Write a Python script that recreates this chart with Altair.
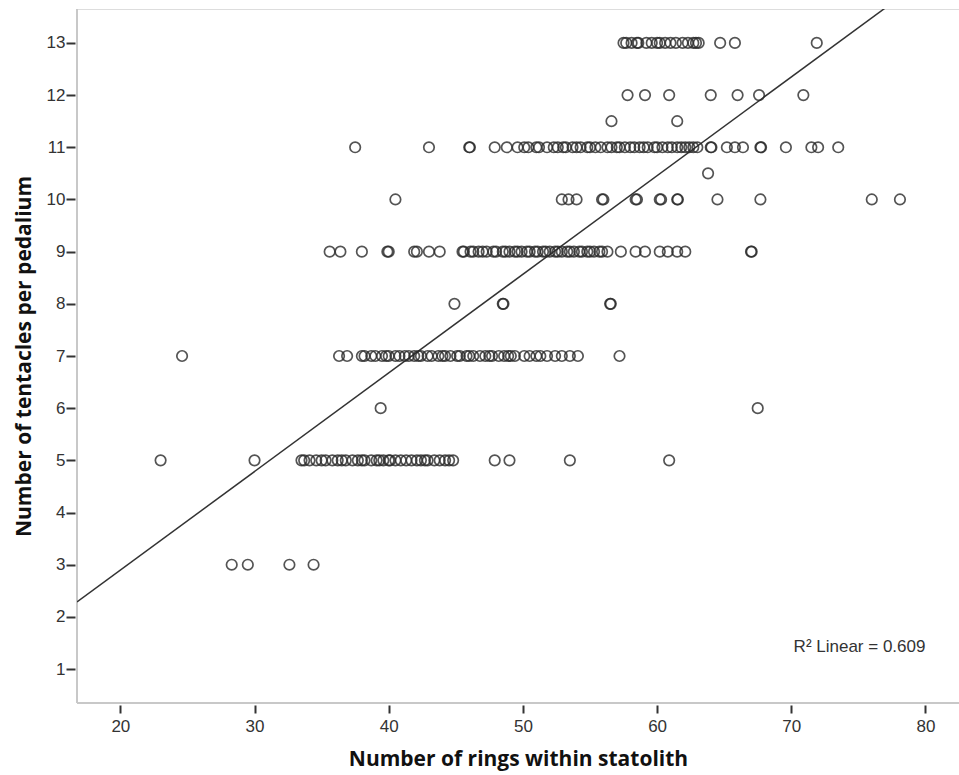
import altair as alt
import pandas as pd

# Number of rings (x) for each tentacle-count row (y)
rings_t3 = [28.3, 29.5, 32.6, 34.4]
rings_t5 = [23.0, 30.0, 33.5, 33.7, 34.1, 34.6, 35.0, 35.3, 35.8, 36.2, 36.5, 36.8, 37.3, 37.7,
            38.0, 38.2, 38.7, 39.1, 39.3, 39.6, 40.0, 40.1, 40.5, 40.9, 41.3, 41.7, 42.1, 42.4,
            42.7, 42.9, 43.4, 43.8, 44.2, 44.5, 44.8, 47.9, 49.0, 53.5, 60.9]
rings_t6 = [39.4, 67.5]
rings_t7 = [24.6, 36.3, 36.9, 38.0, 38.2, 38.7, 39.0, 39.5, 39.8, 40.0, 40.5, 40.8, 41.2, 41.5,
            41.9, 42.2, 42.4, 42.9, 43.2, 43.7, 44.0, 44.2, 44.6, 45.1, 45.3, 45.8, 46.0, 46.3,
            46.8, 47.2, 47.5, 47.7, 48.2, 48.6, 48.9, 49.1, 49.4, 50.1, 50.5, 51.0, 51.3, 51.8,
            52.4, 52.9, 53.5, 54.1, 57.2]
rings_t8 = [44.9, 48.5, 48.55, 56.5, 56.55]
rings_t9 = [35.6, 36.4, 38.0, 39.9, 40.0, 41.9, 42.1, 43.0, 43.8, 45.5, 45.6, 46.1, 46.3, 46.7,
            47.0, 47.3, 47.8, 48.0, 48.5, 48.7, 49.0, 49.4, 49.6, 49.9, 50.3, 50.5, 50.9, 51.1,
            51.5, 51.7, 52.0, 52.4, 52.6, 52.9, 53.3, 53.5, 53.8, 54.2, 54.4, 54.8, 55.0, 55.3,
            55.7, 55.9, 56.3, 57.3, 58.4, 59.1, 60.2, 60.8, 61.5, 62.1, 67.0, 67.05]
rings_t10 = [40.5, 52.9, 53.4, 54.0, 55.9, 56.0, 58.4, 58.5, 60.2, 60.3, 61.5, 61.55, 64.5,
             67.7, 76.0, 78.1]
rings_t10_5 = [63.8]
rings_t11 = [37.5, 43.0, 46.0, 46.05, 47.9, 48.8, 49.6, 50.1, 50.4, 51.0, 51.2, 51.8, 52.3,
             52.6, 53.0, 53.2, 53.7, 54.0, 54.3, 54.8, 55.0, 55.4, 55.8, 56.3, 56.6, 57.0, 57.2,
             57.6, 58.0, 58.3, 58.7, 59.0, 59.3, 59.8, 60.0, 60.4, 60.8, 61.1, 61.5, 61.8, 62.1,
             62.4, 62.7, 63.0, 64.0, 64.05, 65.2, 65.8, 66.4, 67.7, 67.75, 69.6, 71.5, 72.0, 73.5]
rings_t11_5 = [56.6, 61.5]
rings_t12 = [57.8, 59.1, 60.9, 64.0, 66.0, 67.6, 70.9]
rings_t13 = [57.5, 57.7, 58.1, 58.5, 58.6, 59.2, 59.6, 60.0, 60.2, 60.6, 61.0, 61.4, 61.9,
             62.3, 62.7, 62.9, 63.1, 64.7, 65.8, 71.9]

tentacle_rows = [3, 5, 6, 7, 8, 9, 10, 10.5, 11, 11.5, 12, 13]
ring_rows = [rings_t3, rings_t5, rings_t6, rings_t7, rings_t8, rings_t9, rings_t10,
             rings_t10_5, rings_t11, rings_t11_5, rings_t12, rings_t13]

x_ticks = [20, 30, 40, 50, 60, 70, 80]
y_ticks = [1, 2, 3, 4, 5, 6, 7, 8, 9, 10, 11, 12, 13]
x_domain = [16.77, 82.5]
y_domain = [0.35, 13.65]

fit_intercept = -0.884
fit_slope = 0.189
r2_label = "R\u00b2 Linear = 0.609"

rows = []
for t, rr in zip(tentacle_rows, ring_rows):
    for r in rr:
        rows.append({"rings": r, "tentacles": t})
df = pd.DataFrame(rows)

fit_df = pd.DataFrame({
    "rings": x_domain,
    "tentacles": [fit_intercept + fit_slope * v for v in x_domain],
})
label_df = pd.DataFrame({"rings": [80], "tentacles": [1.42], "text": [r2_label]})

W, H = 882, 694
TITLE_FONT = "Open Sans"
LABEL_FONT = "Liberation Sans"

xscale = alt.Scale(domain=x_domain, nice=False, zero=False)
yscale = alt.Scale(domain=y_domain, nice=False, zero=False)

xaxis = alt.Axis(values=x_ticks, domain=False, grid=False, offset=2, tickSize=8,
                 tickWidth=2, tickColor="#333333", labelFontSize=17, labelFont=LABEL_FONT,
                 labelColor="#333333", labelPadding=5, title="Number of rings within statolith",
                 titleFont=TITLE_FONT, titleFontSize=21, titleFontWeight="bold",
                 titleColor="#111111", titlePadding=14)
yaxis = alt.Axis(values=y_ticks, domain=False, grid=False, offset=2, tickSize=9,
                 tickWidth=2, tickColor="#333333", labelFontSize=17, labelFont=LABEL_FONT,
                 labelColor="#333333", labelPadding=1, title="Number of tentacles per pedalium",
                 titleFont=TITLE_FONT, titleFontSize=21, titleFontWeight="bold",
                 titleColor="#111111", titlePadding=12)

points = alt.Chart(df).mark_point(
    shape="circle", filled=False, size=110, stroke="#2a2a2a", strokeWidth=1.7, opacity=0.8
).encode(
    x=alt.X("rings:Q", scale=xscale, axis=xaxis),
    y=alt.Y("tentacles:Q", scale=yscale, axis=yaxis),
)

fit = alt.Chart(fit_df).mark_line(color="#333333", strokeWidth=1.5, clip=True).encode(
    x=alt.X("rings:Q", scale=xscale),
    y=alt.Y("tentacles:Q", scale=yscale),
)

label = alt.Chart(label_df).mark_text(
    align="right", baseline="middle", font=LABEL_FONT, fontSize=17, color="#333333"
).encode(
    x=alt.X("rings:Q", scale=xscale),
    y=alt.Y("tentacles:Q", scale=yscale),
    text="text:N",
)

axis_y_line = alt.Chart(label_df).mark_rule(color="#c8c8c8", strokeWidth=2).encode(
    x=alt.value(0), y=alt.value(0), y2=alt.value(H)
)
axis_x_line = alt.Chart(label_df).mark_rule(color="#c8c8c8", strokeWidth=2).encode(
    x=alt.value(0), x2=alt.value(W), y=alt.value(H)
)

chart = alt.layer(axis_y_line, axis_x_line, fit, points, label).properties(
    width=W, height=H,
    autosize=alt.AutoSizeParams(type="none"),
    padding={"left": 77, "top": 9, "right": 0, "bottom": 72},
).configure_view(stroke=None).configure(background="white")

chart.save("out.html", embed_options={"renderer": "svg", "actions": False})
